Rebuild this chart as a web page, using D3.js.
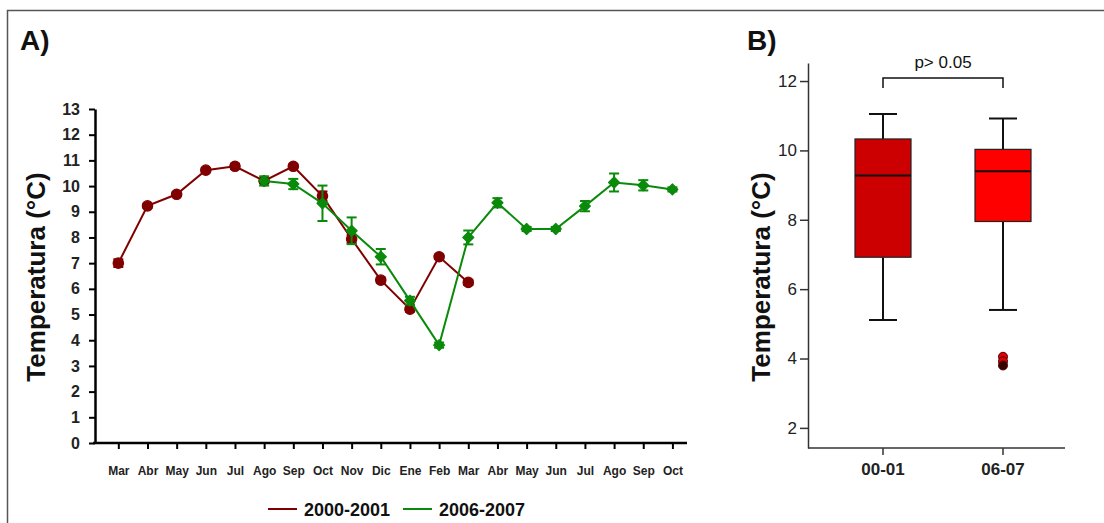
<!DOCTYPE html>
<html>
<head>
<meta charset="utf-8">
<script src="https://cdn.jsdelivr.net/npm/d3@7"></script>
<style>
  html, body { margin: 0; padding: 0; background: #fff; }
  svg { display: block; font-family: "Liberation Sans", Arial, sans-serif; }
</style>
</head>
<body>
<svg id="chart" width="1104" height="523"></svg>
<script>
// ---------- Data: Panel A ----------
const months = ["Mar","Abr","May","Jun","Jul","Ago","Sep","Oct","Nov","Dic","Ene","Feb",
                "Mar","Abr","May","Jun","Jul","Ago","Sep","Oct"];
const yTicksA = [0,1,2,3,4,5,6,7,8,9,10,11,12,13];

// 2000-2001 : month index 0..12
const idx2000 = [0,1,2,3,4,5,6,7,8,9,10,11,12];
const mean2000 = [7.0, 9.23, 9.68, 10.62, 10.77, 10.2, 10.77, 9.61, 7.94, 6.34, 5.21, 7.25, 6.25];
const err2000  = [0.15, 0.08, 0.08, 0.08, 0.1, 0.08, 0.08, 0.18, 0.15, 0.1, 0.1, 0.08, 0.1];

// 2006-2007 : month index 5..19
const idx2006 = [5,6,7,8,9,10,11,12,13,14,15,16,17,18,19];
const mean2006 = [10.2, 10.08, 9.33, 8.26, 7.25, 5.54, 3.81, 8.0, 9.35, 8.33, 8.33, 9.22, 10.14, 10.03, 9.87];
const err2006  = [0.18, 0.2, 0.69, 0.52, 0.3, 0.15, 0.1, 0.27, 0.18, 0.08, 0.08, 0.2, 0.35, 0.2, 0.08];

const seriesNames = ["2000-2001", "2006-2007"];

// ---------- Data: Panel B ----------
const groups = ["00-01", "06-07"];
const q1 = [6.92, 7.95];
const median = [9.28, 9.4];
const q3 = [10.33, 10.03];
const whiskLow = [5.11, 5.4];
const whiskHigh = [11.05, 10.92];
const outliers = [[], [4.05, 3.92, 3.8]];
const yTicksB = [2, 4, 6, 8, 10, 12];
const pText = "p> 0.05";

// ---------- Styles ----------
const RED = "#800000";
const GREEN = "#0a8a0a";
const boxColors = ["#cc0000", "#ff0000"];
const FONT = "Liberation Sans, Arial, sans-serif";

const svg = d3.select("#chart");

// outer frame (top + left visible)
svg.append("rect").attr("x", 7.5).attr("y", 10.5).attr("width", 1200).attr("height", 600)
  .attr("fill", "none").attr("stroke", "#555").attr("stroke-width", 1.5);

// ================= Panel A =================
svg.append("text").attr("x", 20).attr("y", 50).text("A)")
  .attr("font-size", 28).attr("font-weight", "bold").attr("fill", "#111");

const xA = d3.scaleLinear().domain([-0.8, 19.5]).range([95, 687]);
const yA = d3.scaleLinear().domain([0, 13]).range([443, 109]);

const gA = svg.append("g");

// Y axis
const yAxisA = gA.append("g").attr("transform", `translate(${xA(-0.8)},0)`)
  .call(d3.axisLeft(yA).tickValues(yTicksA).tickSize(6).tickSizeOuter(0).tickPadding(9));
yAxisA.select(".domain").attr("stroke", "#000").attr("stroke-width", 2.5);
yAxisA.selectAll(".tick line").attr("stroke", "#000").attr("stroke-width", 2);
yAxisA.selectAll(".tick text").attr("font-size", 16).attr("font-weight", "bold")
  .attr("fill", "#222").attr("font-family", FONT);

// X axis
const xAxisA = gA.append("g").attr("transform", `translate(0,${yA(0)})`)
  .call(d3.axisBottom(xA).tickValues(d3.range(months.length)).tickFormat(i => months[i])
        .tickSize(6).tickSizeOuter(0).tickPadding(17));
xAxisA.select(".domain").attr("stroke", "#000").attr("stroke-width", 2.5)
  .attr("d", `M${xA(-0.8) - 2},0H${xA(19.5)}`);
xAxisA.selectAll(".tick line").attr("stroke", "#000").attr("stroke-width", 2);
xAxisA.selectAll(".tick text").attr("font-size", 12).attr("font-weight", "bold")
  .attr("fill", "#222").attr("font-family", FONT);

// Y title
svg.append("text")
  .attr("transform", `translate(45,277) rotate(-90)`)
  .attr("text-anchor", "middle")
  .attr("font-size", 26).attr("font-weight", "bold").attr("fill", "#111")
  .text("Temperatura (°C)");

function drawSeries(idx, mean, err, color, isDiamond) {
  const pts = idx.map((i, k) => ({ x: i, y: mean[k], e: err[k] }));
  const g = gA.append("g");
  g.append("path").datum(pts)
    .attr("fill", "none").attr("stroke", color).attr("stroke-width", 2)
    .attr("d", d3.line().x(d => xA(d.x)).y(d => yA(d.y)));
  // error bars
  const eb = g.selectAll(".eb").data(pts).enter().append("g");
  eb.append("line").attr("x1", d => xA(d.x)).attr("x2", d => xA(d.x))
    .attr("y1", d => yA(d.y - d.e)).attr("y2", d => yA(d.y + d.e))
    .attr("stroke", color).attr("stroke-width", 2);
  eb.append("line").attr("x1", d => xA(d.x) - 5).attr("x2", d => xA(d.x) + 5)
    .attr("y1", d => yA(d.y + d.e)).attr("y2", d => yA(d.y + d.e))
    .attr("stroke", color).attr("stroke-width", 2);
  eb.append("line").attr("x1", d => xA(d.x) - 5).attr("x2", d => xA(d.x) + 5)
    .attr("y1", d => yA(d.y - d.e)).attr("y2", d => yA(d.y - d.e))
    .attr("stroke", color).attr("stroke-width", 2);
  // markers
  g.selectAll(".mk").data(pts).enter().append("path")
    .attr("transform", d => `translate(${xA(d.x)},${yA(d.y)})` + (isDiamond ? " rotate(45)" : ""))
    .attr("d", d3.symbol().type(isDiamond ? d3.symbolSquare : d3.symbolCircle).size(isDiamond ? 60 : 85))
    .attr("fill", color).attr("stroke", color).attr("stroke-width", 1.2)
    .attr("stroke-linejoin", "round");
}
drawSeries(idx2000, mean2000, err2000, RED, false);
drawSeries(idx2006, mean2006, err2006, GREEN, true);

// Legend
const legend = svg.append("g");
const legItems = [
  { name: seriesNames[0], color: RED, x: 268 },
  { name: seriesNames[1], color: GREEN, x: 403 }
];
legItems.forEach(it => {
  legend.append("line").attr("x1", it.x).attr("x2", it.x + 29).attr("y1", 509).attr("y2", 509)
    .attr("stroke", it.color).attr("stroke-width", 2);
  legend.append("text").attr("x", it.x + 36).attr("y", 515.5).text(it.name)
    .attr("font-size", 18).attr("font-weight", "bold").attr("fill", "#111");
});

// ================= Panel B =================
svg.append("text").attr("x", 747).attr("y", 50).text("B)")
  .attr("font-size", 28).attr("font-weight", "bold").attr("fill", "#111");

const yB = d3.scaleLinear().domain([1.42, 12.52]).range([448, 63]);
const xB = d3.scaleBand().domain(groups).range([823, 1063]);
const xLeftB = 808, xRightB = 1065;
const gB = svg.append("g");

const yAxisB = gB.append("g").attr("transform", `translate(${xLeftB},0)`)
  .call(d3.axisLeft(yB).tickValues(yTicksB).tickSize(8).tickSizeOuter(0).tickPadding(3));
yAxisB.select(".domain").attr("stroke", "#333").attr("stroke-width", 1.5);
yAxisB.selectAll(".tick line").attr("stroke", "#333").attr("stroke-width", 1.5);
yAxisB.selectAll(".tick text").attr("font-size", 17).attr("fill", "#222")
  .attr("font-family", FONT);

const xAxisB = gB.append("g").attr("transform", `translate(0,${yB(1.42)})`)
  .call(d3.axisBottom(xB).tickSize(7).tickSizeOuter(0).tickPadding(8));
xAxisB.select(".domain").attr("stroke", "#333").attr("stroke-width", 1.5)
  .attr("d", `M${xLeftB},0H${xRightB}`);
xAxisB.selectAll(".tick line").attr("stroke", "#333").attr("stroke-width", 1.5);
xAxisB.selectAll(".tick text").attr("font-size", 17).attr("font-weight", "bold").attr("fill", "#222")
  .attr("font-family", FONT);

svg.append("text")
  .attr("transform", `translate(770,277) rotate(-90)`)
  .attr("text-anchor", "middle")
  .attr("font-size", 26).attr("font-weight", "bold").attr("fill", "#111")
  .text("Temperatura (°C)");

const boxW = 56, capW = 28;
groups.forEach((gname, i) => {
  const cx = xB(gname) + xB.bandwidth() / 2;
  const g = gB.append("g");
  // whiskers
  g.append("line").attr("x1", cx).attr("x2", cx).attr("y1", yB(whiskHigh[i])).attr("y2", yB(q3[i]))
    .attr("stroke", "#111").attr("stroke-width", 2);
  g.append("line").attr("x1", cx).attr("x2", cx).attr("y1", yB(q1[i])).attr("y2", yB(whiskLow[i]))
    .attr("stroke", "#111").attr("stroke-width", 2);
  g.append("line").attr("x1", cx - capW / 2).attr("x2", cx + capW / 2)
    .attr("y1", yB(whiskHigh[i])).attr("y2", yB(whiskHigh[i])).attr("stroke", "#111").attr("stroke-width", 2);
  g.append("line").attr("x1", cx - capW / 2).attr("x2", cx + capW / 2)
    .attr("y1", yB(whiskLow[i])).attr("y2", yB(whiskLow[i])).attr("stroke", "#111").attr("stroke-width", 2);
  // box
  g.append("rect").attr("x", cx - boxW / 2).attr("width", boxW)
    .attr("y", yB(q3[i])).attr("height", yB(q1[i]) - yB(q3[i]))
    .attr("fill", boxColors[i]).attr("stroke", "#222").attr("stroke-width", 1.2);
  g.append("line").attr("x1", cx - boxW / 2).attr("x2", cx + boxW / 2)
    .attr("y1", yB(median[i])).attr("y2", yB(median[i])).attr("stroke", "#111").attr("stroke-width", 2);
  // outliers
  g.selectAll(".out").data(outliers[i]).enter().append("circle")
    .attr("cx", cx).attr("cy", d => yB(d)).attr("r", 4.5)
    .attr("fill", (d, k) => k === outliers[i].length - 1 ? "#3a0000" : "#e00000")
    .attr("stroke", "#500000").attr("stroke-width", 1);
});

// significance bracket
const c0 = xB(groups[0]) + xB.bandwidth() / 2;
const c1 = xB(groups[1]) + xB.bandwidth() / 2;
gB.append("path")
  .attr("d", `M${c0},${yB(11.8)}V${yB(12.09)}H${c1}V${yB(11.8)}`)
  .attr("fill", "none").attr("stroke", "#111").attr("stroke-width", 1.5);
gB.append("text").attr("x", (c0 + c1) / 2).attr("y", 68).attr("text-anchor", "middle")
  .attr("font-size", 17).attr("fill", "#111").text(pText);
</script>
</body>
</html>
